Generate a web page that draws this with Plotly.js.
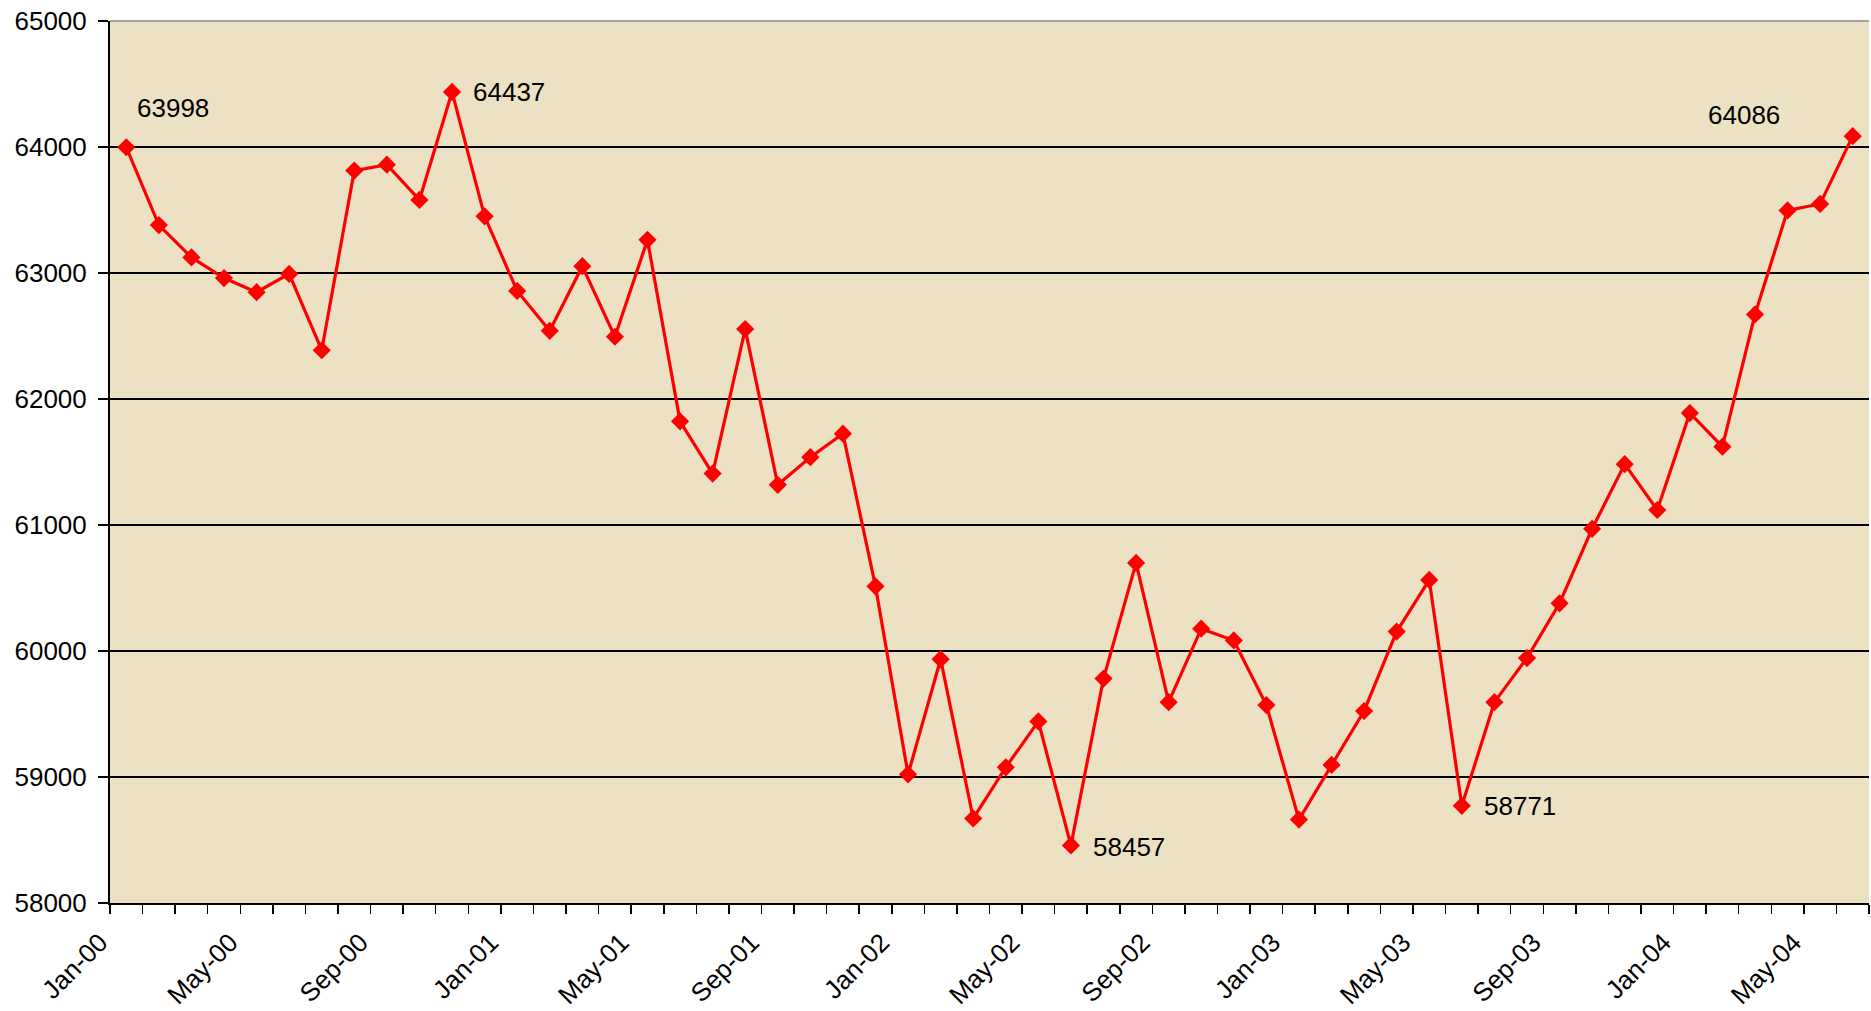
<!DOCTYPE html>
<html>
<head>
<meta charset="utf-8">
<script src="https://cdn.plot.ly/plotly-3.0.1.min.js"></script>
<style>
  html, body { margin: 0; padding: 0; background: #ffffff; }
  #chart { width: 1871px; height: 1011px; }
</style>
</head>
<body>
<div id="chart"></div>
<script>
// Categories (months) and series values
const months = [
  "Jan-00","Feb-00","Mar-00","Apr-00","May-00","Jun-00","Jul-00","Aug-00","Sep-00","Oct-00","Nov-00","Dec-00",
  "Jan-01","Feb-01","Mar-01","Apr-01","May-01","Jun-01","Jul-01","Aug-01","Sep-01","Oct-01","Nov-01","Dec-01",
  "Jan-02","Feb-02","Mar-02","Apr-02","May-02","Jun-02","Jul-02","Aug-02","Sep-02","Oct-02","Nov-02","Dec-02",
  "Jan-03","Feb-03","Mar-03","Apr-03","May-03","Jun-03","Jul-03","Aug-03","Sep-03","Oct-03","Nov-03","Dec-03",
  "Jan-04","Feb-04","Mar-04","Apr-04","May-04","Jun-04"
];
const values = [
  63998, 63380, 63124, 62960, 62848, 62993, 62387, 63813, 63860, 63580, 64437, 63450,
  62858, 62541, 63054, 62494, 63263, 61823, 61408, 62555, 61319, 61538, 61725, 60513,
  59021, 59935, 58671, 59077, 59441, 58457, 59781, 60699, 59594, 60177, 60084, 59571,
  58662, 59096, 59524, 60154, 60564, 58771, 59594, 59944, 60378, 60970, 61483, 61119,
  61888, 61622, 62671, 63497, 63548, 64086
];
// Points that carry a value label
const labelledPoints = [0, 10, 29, 41, 53];
// Y axis ticks
const yTicks = [58000, 59000, 60000, 61000, 62000, 63000, 64000, 65000];
const labelEvery = 4;

// Style-only: label placement relative to its point (pixels)
const labelStyle = [
  {xanchor: "center", xshift: 47, yshift: 39},
  {xanchor: "left", xshift: 19, yshift: 0},
  {xanchor: "left", xshift: 20, yshift: -2},
  {xanchor: "left", xshift: 20, yshift: 0},
  {xanchor: "center", xshift: -109, yshift: 21}
];

const xIdx = months.map((m, i) => i);
const boundaries = [];
const boundaryText = [];
for (let i = 0; i <= months.length; i++) {
  boundaries.push(i - 0.5);
  boundaryText.push(i < months.length && i % labelEvery === 0 ? months[i] : "");
}

const fontFam = "Liberation Sans, Arial, sans-serif";
const fontSize = 26;

const trace = {
  type: "scatter",
  mode: "lines+markers",
  x: xIdx,
  y: values,
  line: {color: "#ff0000", width: 3.2},
  marker: {symbol: "diamond", size: 14, color: "#ff0000", line: {width: 0}},
  hoverinfo: "skip"
};

const annotations = labelledPoints.map((idx, k) => ({
  x: idx,
  y: values[idx],
  xref: "x",
  yref: "y",
  text: String(values[idx]),
  showarrow: false,
  xanchor: labelStyle[k].xanchor,
  yanchor: "middle",
  xshift: labelStyle[k].xshift,
  yshift: labelStyle[k].yshift,
  font: {family: fontFam, size: fontSize, color: "#000000"}
}));

const layout = {
  width: 1871,
  height: 1011,
  margin: {l: 110, r: 2, t: 21, b: 108},
  paper_bgcolor: "#ffffff",
  plot_bgcolor: "#ede1c4",
  showlegend: false,
  xaxis: {
    range: [-0.5, months.length - 0.5],
    tickmode: "array",
    tickvals: boundaries,
    ticktext: boundaryText,
    tickangle: -45,
    ticks: "outside",
    ticklen: 9,
    tickwidth: 1.5,
    tickcolor: "#000000",
    ticklabelstandoff: 3,
    ticklabelshift: -10,
    showgrid: false,
    zeroline: false,
    showline: true,
    linecolor: "#000000",
    linewidth: 2,
    tickfont: {family: fontFam, size: fontSize, color: "#000000"}
  },
  yaxis: {
    range: [yTicks[0], yTicks[yTicks.length - 1]],
    tickmode: "array",
    tickvals: yTicks,
    ticktext: yTicks.map(String),
    ticks: "outside",
    ticklen: 10,
    tickwidth: 1.5,
    tickcolor: "#000000",
    showgrid: true,
    gridcolor: "#000000",
    gridwidth: 1.3,
    zeroline: false,
    showline: true,
    linecolor: "#000000",
    linewidth: 2,
    ticklabelstandoff: 6,
    tickfont: {family: fontFam, size: fontSize, color: "#000000"}
  },
  shapes: [
    {type: "line", xref: "paper", yref: "paper", x0: 0, x1: 1, y0: 1, y1: 1,
     line: {color: "#8a8a8a", width: 1.5}}
  ],
  annotations: annotations
};

Plotly.newPlot("chart", [trace], layout, {displayModeBar: false, staticPlot: true});
</script>
</body>
</html>
